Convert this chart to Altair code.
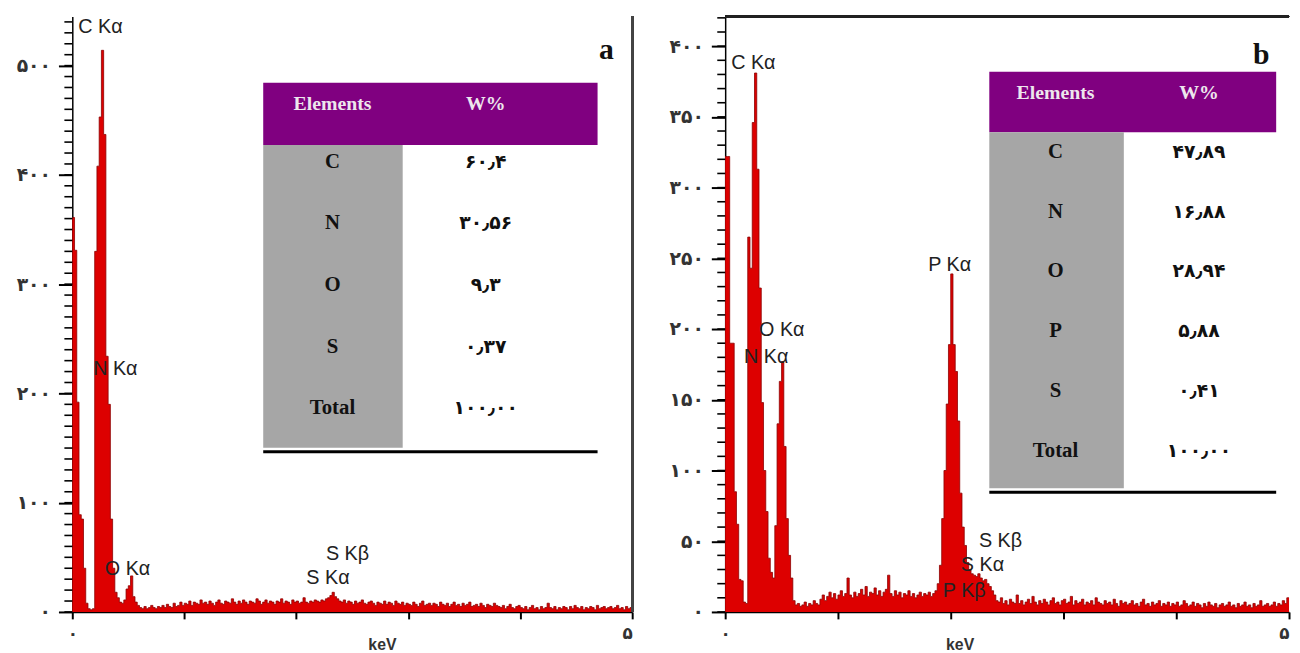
import altair as alt
import pandas as pd

# ---------------- data ----------------
BIN_KEV = 0.02
X_MAX = 5

# counts per 0.02 keV channel, 0 - 5 keV (panel a)
COUNTS_A = [
    361, 331, 192, 89, 85, 40, 8, 3, 2, 3,
    330, 408, 453, 514, 437, 234, 190, 85, 40, 18,
    13, 9, 8, 11, 21, 24, 33, 14, 9, 6,
    4, 3, 5, 3, 4, 6, 4, 3, 5, 4,
    6, 4, 7, 5, 4, 8, 5, 6, 9, 6,
    8, 7, 10, 6, 9, 8, 7, 11, 8, 9,
    7, 10, 8, 6, 9, 11, 8, 7, 10, 9,
    8, 12, 9, 7, 10, 8, 11, 9, 7, 10,
    9, 8, 12, 10, 7, 9, 11, 8, 10, 9,
    7, 10, 9, 12, 8, 10, 9, 7, 11, 9,
    10, 8, 9, 13, 9, 8, 10, 9, 11, 10,
    9, 11, 10, 12, 13, 15, 18, 14, 12, 10,
    9, 11, 8, 10, 9, 7, 10, 8, 9, 11,
    8, 7, 9, 10, 8, 6, 9, 8, 7, 10,
    7, 9, 8, 6, 10, 8, 7, 9, 6, 8,
    7, 6, 9, 7, 5, 8, 10, 6, 7, 8,
    6, 8, 7, 5, 9, 7, 6, 8, 5, 7,
    9, 6, 7, 5, 8, 6, 7, 9, 5, 6,
    7, 5, 8, 6, 4, 7, 6, 5, 8, 6,
    5, 4, 6, 3, 5, 7, 4, 3, 5, 6,
    4, 3, 5, 2, 4, 6, 3, 4, 2, 5,
    3, 4, 8, 4, 3, 5, 2, 4, 3, 5,
    4, 2, 5, 3, 6, 4, 3, 5, 2, 4,
    3, 5, 4, 2, 6, 3, 4, 5, 3, 4,
    5, 3, 4, 6, 3, 4, 2, 5, 3, 4,
]

# counts per 0.02 keV channel, 0 - 5 keV (panel b)
COUNTS_B = [
    322, 322, 190, 190, 85, 62, 23, 22, 7, 6,
    265, 243, 346, 381, 313, 229, 148, 100, 71, 38,
    28, 24, 61, 133, 163, 177, 117, 66, 40, 24,
    8, 5, 6, 4, 5, 7, 4, 6, 5, 8,
    6, 5, 9, 12, 8, 11, 14, 10, 13, 9,
    12, 15, 11, 13, 24, 12, 10, 14, 11, 13,
    16, 12, 18, 11, 14, 13, 17, 12, 15, 11,
    14, 16, 26, 13, 11, 15, 12, 14, 10, 13,
    12, 15, 11, 13, 10, 12, 14, 11, 13, 12,
    14, 11, 13, 15, 20, 33, 66, 100, 147, 189,
    239, 189, 170, 135, 84, 60, 47, 35, 30, 27,
    26, 25, 27, 24, 22, 23, 20, 18, 15, 12,
    8, 7, 10, 6, 8, 5, 9, 7, 6, 12,
    6, 8, 5, 7, 9, 6, 11, 7, 5, 8,
    6, 9, 7, 5, 8, 10, 6, 7, 5, 8,
    9, 6, 7, 11, 5, 8, 6, 7, 9, 5,
    7, 6, 8, 5, 10, 7, 6, 5, 8, 6,
    7, 5, 9, 6, 4, 8, 6, 7, 5, 6,
    8, 5, 6, 4, 7, 9, 5, 6, 4, 7,
    5, 6, 8, 4, 6, 5, 7, 4, 6, 5,
    7, 4, 5, 8, 6, 4, 5, 7, 4, 6,
    5, 3, 6, 4, 7, 5, 4, 6, 3, 5,
    6, 4, 5, 7, 4, 5, 3, 6, 4, 5,
    7, 4, 5, 3, 6, 4, 5, 8, 4, 5,
    6, 4, 5, 7, 4, 6, 5, 8, 6, 10,
]

X_TICKS = [0, 1, 2, 3, 4, 5]
X_TICK_LABELS = ["۰", "", "", "", "", "۵"]
X_TITLE = "keV"

Y_TICKS_A = [0, 100, 200, 300, 400, 500]
Y_TICK_LABELS_A = ["۰", "۱۰۰", "۲۰۰", "۳۰۰", "۴۰۰", "۵۰۰"]
Y_MAX_A = 545
Y_TICKS_B = [0, 50, 100, 150, 200, 250, 300, 350, 400]
Y_TICK_LABELS_B = ["۰", "۵۰", "۱۰۰", "۱۵۰", "۲۰۰", "۲۵۰", "۳۰۰", "۳۵۰", "۴۰۰"]
Y_MAX_B = 421
MINOR_STEP = 10

PEAK_TEXT_A = ["C Kα", "N Kα", "O Kα", "S Kβ", "S Kα"]
PEAK_KEV_A = [0.053, 0.186, 0.29, 2.265, 2.09]
PEAK_CNT_A = [535, 222, 39, 53, 31]

PEAK_TEXT_B = ["C Kα", "O Kα", "N Kα", "P Kα", "S Kβ", "S Kα", "P Kβ"]
PEAK_KEV_B = [0.053, 0.30, 0.167, 1.80, 2.25, 2.09, 1.93]
PEAK_CNT_B = [388, 199, 180, 245, 50, 33, 15]

TABLE_HEAD = ["Elements", "W%"]
ELEMENTS_A = ["C", "N", "O", "S", "Total"]
WEIGHT_A = ["۶۰٫۴", "۳۰٫۵۶", "۹٫۳", "۰٫۳۷", "۱۰۰٫۰۰"]
ELEMENTS_B = ["C", "N", "O", "P", "S", "Total"]
WEIGHT_B = ["۴۷٫۸۹", "۱۶٫۸۸", "۲۸٫۹۴", "۵٫۸۸", "۰٫۴۱", "۱۰۰٫۰۰"]

# ---------------- layout & style ----------------
H = 602
W_A = 566
W_B = 570
EXT_A = 64
EXT_B = 62
GAP = 28
MAJOR_LEN = 14
MINOR_LEN = 8
XTICK_LEN = 7

RED = "#DD0000"
DARK = "#8B0000"
PURPLE = "#800080"
GRAY = "#A6A6A6"
INK = "#000000"

TABLE_A = dict(left=193, right=531, head_top=67, head_bot=130, split=334,
               body_bot=436, rule_y=440, label_x=263, value_x=418,
               head_y=89, row_y0=147, row_dy=62.25)
TABLE_B = dict(left=267, right=557, head_top=56, head_bot=117, split=403,
               body_bot=477, rule_y=481, label_x=334, value_x=479,
               head_y=77, row_y0=137, row_dy=60.4)


def label_expr(values, labels):
    parts = [f"datum.value == {v} ? '{l}'" for v, l in zip(values, labels)]
    return " : ".join(parts) + " : ''"


def build_panel(counts, width, ymax, yticks, ylabels, ptext, pkev, pcnt,
                elements, weights, tbl, letter, letter_px, extent, title_x,
                right_border, top_border):
    to_e = lambda px: px / width * X_MAX
    to_c = lambda py: (H - py) / H * ymax

    n = len(counts)
    spec_df = pd.DataFrame({
        "e": [i * BIN_KEV for i in range(n)] + [n * BIN_KEV],
        "c": list(counts) + [counts[-1]],
    })

    x_scale = alt.Scale(domain=[0, X_MAX], nice=False, zero=False)
    y_scale = alt.Scale(domain=[0, ymax], nice=False, zero=True)
    x_axis = alt.Axis(
        values=X_TICKS, labelExpr=label_expr(X_TICKS, X_TICK_LABELS),
        title=X_TITLE, grid=False, domainColor=INK, domainWidth=1.5,
        ticks=True, tickColor=INK, tickWidth=2, tickSize=XTICK_LEN,
        labelFont="DejaVu Sans", labelFontSize=17,
        labelFontWeight="bold", labelColor="#333333", labelPadding=7,
        labelFlush=False,
        labelAlign={"condition": {"test": "datum.value == 5", "value": "right"},
                    "value": "center"},
        titleFont="Liberation Sans", titleFontSize=16, titleFontWeight="bold",
        titleColor="#333333", titleX=title_x, titleY=38,
        titleBaseline="alphabetic")
    y_axis = alt.Axis(
        values=yticks, labelExpr=label_expr(yticks, ylabels), title=None,
        grid=False, domainColor=INK, domainWidth=1.5,
        ticks=True, tickColor=INK, tickWidth=2, tickSize=MAJOR_LEN,
        labelFont="DejaVu Sans", labelFontSize=19, labelFontWeight="bold",
        labelColor="#333333", labelPadding=8,
        minExtent=extent, maxExtent=extent)
    X = alt.X("e:Q", scale=x_scale, axis=x_axis)
    Y = alt.Y("c:Q", scale=y_scale, axis=y_axis)

    area = alt.Chart(spec_df).mark_area(
        interpolate="step-after", color=RED).encode(x=X, y=Y)
    line = alt.Chart(spec_df).mark_line(
        interpolate="step-after", color=DARK, strokeWidth=0.8).encode(x=X, y=Y)

    peak_df = pd.DataFrame({"e": pkev, "c": pcnt, "t": ptext})
    peaks = alt.Chart(peak_df).mark_text(
        align="left", baseline="middle", font="Liberation Sans", fontSize=20,
        color="#222222").encode(x=X, y=Y, text="t:N")

    t = tbl
    rect_df = pd.DataFrame({
        "e": [to_e(t["left"]), to_e(t["left"]), to_e(t["left"])],
        "e2": [to_e(t["right"]), to_e(t["split"]), to_e(t["right"])],
        "c": [to_c(t["head_top"]), to_c(t["head_bot"]), to_c(t["rule_y"] - 1.5)],
        "c2": [to_c(t["head_bot"]), to_c(t["body_bot"]), to_c(t["rule_y"] + 1.5)],
        "fill": [PURPLE, GRAY, INK],
    })
    rects = alt.Chart(rect_df).mark_rect().encode(
        x=X, x2="e2:Q", y=Y, y2="c2:Q", color=alt.Color("fill:N", scale=None))

    head_df = pd.DataFrame({
        "e": [to_e(t["label_x"]), to_e(t["value_x"])],
        "c": [to_c(t["head_y"])] * 2,
        "t": TABLE_HEAD,
    })
    head = alt.Chart(head_df).mark_text(
        align="center", baseline="middle", font="Liberation Serif",
        fontSize=20, fontWeight="bold", color="#EDE6ED").encode(
        x=X, y=Y, text="t:N")

    row_c = [to_c(t["row_y0"] + i * t["row_dy"]) for i in range(len(elements))]
    lab_df = pd.DataFrame({"e": [to_e(t["label_x"])] * len(elements),
                           "c": row_c, "t": elements})
    labs = alt.Chart(lab_df).mark_text(
        align="center", baseline="middle", font="Liberation Serif",
        fontSize=21, fontWeight="bold", color="#111111").encode(
        x=X, y=Y, text="t:N")
    val_df = pd.DataFrame({"e": [to_e(t["value_x"])] * len(weights),
                           "c": row_c, "t": weights})
    vals = alt.Chart(val_df).mark_text(
        align="center", baseline="middle", font="DejaVu Sans",
        fontSize=19, fontWeight="bold", color="#111111").encode(
        x=X, y=Y, text="t:N")

    let_df = pd.DataFrame({"e": [to_e(letter_px[0])], "c": [to_c(letter_px[1])],
                           "t": [letter]})
    let = alt.Chart(let_df).mark_text(
        align="center", baseline="middle", font="Liberation Serif",
        fontSize=30, fontWeight="bold", color="#111111").encode(
        x=X, y=Y, text="t:N")

    # minor tick ladder (every 10 counts) on the outside of the y axis
    minor_df = pd.DataFrame({"c": list(range(0, int(ymax) + 1, MINOR_STEP))})
    minor = alt.Chart(minor_df).mark_rule(
        color=INK, strokeWidth=1.6, clip=False).encode(
        y=Y, x=alt.value(-MINOR_LEN), x2=alt.value(0))

    layers = [area, line, rects, head, labs, vals, peaks, let, minor]
    if right_border:
        layers.append(alt.Chart(minor_df).mark_rule(
            color="#444444", strokeWidth=2, clip=False).encode(
            x=alt.value(width), y=alt.value(0), y2=alt.value(H)))
    if top_border:
        layers.append(alt.Chart(minor_df).mark_rule(
            color="#222222", strokeWidth=1.5, clip=False).encode(
            x=alt.value(0), x2=alt.value(width), y=alt.value(0)))

    return alt.layer(*layers).properties(width=width, height=H)


panel_a = build_panel(COUNTS_A, W_A, Y_MAX_A, Y_TICKS_A, Y_TICK_LABELS_A,
                      PEAK_TEXT_A, PEAK_KEV_A, PEAK_CNT_A,
                      ELEMENTS_A, WEIGHT_A, TABLE_A, "a", (540, 34), EXT_A, 313,
                      right_border=True, top_border=False)
panel_b = build_panel(COUNTS_B, W_B, Y_MAX_B, Y_TICKS_B, Y_TICK_LABELS_B,
                      PEAK_TEXT_B, PEAK_KEV_B, PEAK_CNT_B,
                      ELEMENTS_B, WEIGHT_B, TABLE_B, "b", (542, 39), EXT_B, 237,
                      right_border=False, top_border=True)

chart = alt.hconcat(panel_a, panel_b, spacing=GAP).properties(
    padding={"left": 0, "top": 3, "right": 0, "bottom": 0}
).configure_view(stroke="transparent")

chart.save("out.html", embed_options={"renderer": "svg", "actions": False})
